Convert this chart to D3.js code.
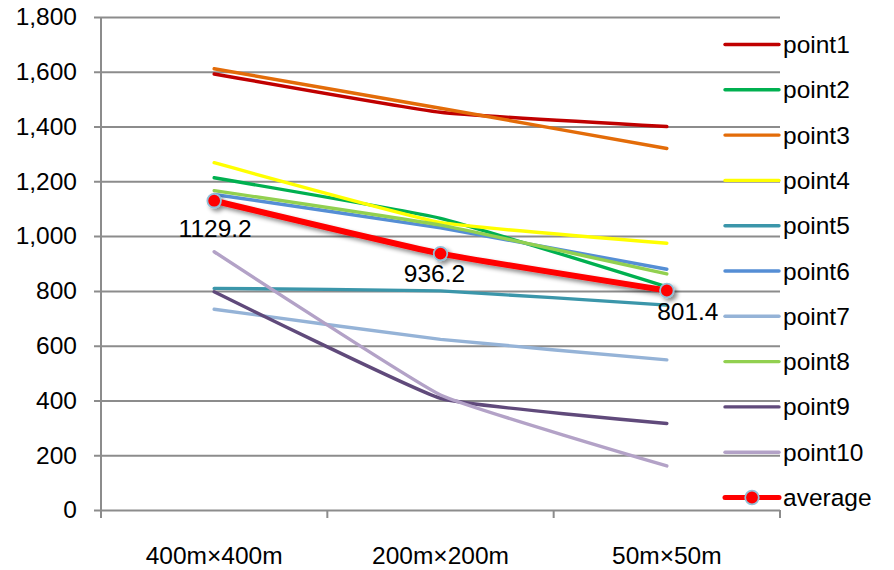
<!DOCTYPE html>
<html>
<head>
<meta charset="utf-8">
<script src="https://cdn.jsdelivr.net/npm/d3@7"></script>
<style>
  html, body { margin: 0; padding: 0; background: #fff; }
  svg { display: block; font-family: "Liberation Sans", Arial, sans-serif; }
</style>
</head>
<body>
<svg id="chart" width="894" height="570"></svg>
<script>
// Grid resolutions on the x axis
const categories = ["400m\u00d7400m", "200m\u00d7200m", "50m\u00d750m"];

// Measured values per point, one array per series
const point1  = [1592, 1452, 1400];
const point2  = [1213, 1065, 815];
const point3  = [1611, 1467, 1320];
const point4  = [1268, 1050, 974];
const point5  = [809, 800, 748];
const point6  = [1152, 1030, 879];
const point7  = [733, 623, 548];
const point8  = [1166, 1040, 862];
const point9  = [797, 408, 316];
const point10 = [943, 420, 161];
const average = [1129.2, 936.2, 801.4];

const seriesNames = ["point1", "point2", "point3", "point4", "point5",
                     "point6", "point7", "point8", "point9", "point10"];
const seriesValues = [point1, point2, point3, point4, point5,
                      point6, point7, point8, point9, point10];
const seriesColors = ["#C00000", "#00B050", "#E36C09", "#FFFF00", "#3B96AA",
                      "#558ED5", "#95B3D7", "#92D050", "#604A7B", "#B3A2C7"];

const yTicks = [0, 200, 400, 600, 800, 1000, 1200, 1400, 1600, 1800];

// Offsets of the average value labels relative to their markers
const labelOffsets = [[1, 28], [-6, 20], [21, 21]];

const FONT = 24.5;

const svg = d3.select("#chart");
const plot = { left: 101, right: 780, top: 17, bottom: 510 };

const x = d3.scaleBand().domain(categories).range([plot.left, plot.right]);
const y = d3.scaleLinear().domain([0, 1800]).range([plot.bottom, plot.top]);
const cx = c => x(c) + x.bandwidth() / 2;

const defs = svg.append("defs");
const shadow = defs.append("filter").attr("id", "shadow")
  .attr("x", "-10%").attr("y", "-30%").attr("width", "130%").attr("height", "180%");
shadow.append("feDropShadow").attr("dx", 3).attr("dy", 3)
  .attr("stdDeviation", 2.2).attr("flood-color", "#000").attr("flood-opacity", 0.45);

// Horizontal gridlines with left tick marks
const yAxis = d3.axisLeft(y).tickValues(yTicks)
  .tickSize(-(plot.right - plot.left)).tickSizeOuter(0)
  .tickFormat(d3.format(",")).tickPadding(24);
const gy = svg.append("g").attr("transform", `translate(${plot.left},0)`).call(yAxis);
gy.select(".domain").remove();
gy.selectAll(".tick line").attr("x1", -7).attr("stroke", "#8C8C8C").attr("stroke-width", 2);
gy.selectAll(".tick text").attr("font-size", FONT).attr("fill", "#000")
  .attr("font-family", "Liberation Sans, Arial, sans-serif");

// Vertical axis line
svg.append("line").attr("x1", plot.left).attr("x2", plot.left)
  .attr("y1", plot.top).attr("y2", plot.bottom + 8)
  .attr("stroke", "#8C8C8C").attr("stroke-width", 2);

// Category axis: tick marks on band boundaries, labels at band centres
const bounds = categories.map(c => x(c)).concat([plot.right]);
svg.append("g").selectAll("line").data(bounds).join("line")
  .attr("x1", d => d).attr("x2", d => d)
  .attr("y1", plot.bottom).attr("y2", plot.bottom + 8)
  .attr("stroke", "#8C8C8C").attr("stroke-width", 2);
svg.append("g").selectAll("text").data(categories).join("text")
  .attr("x", d => cx(d)).attr("y", 555).attr("dy", "0.35em")
  .attr("text-anchor", "middle").attr("font-size", FONT).attr("fill", "#000")
  .text(d => d);

// Series lines, lightly smoothed
const line = d3.line()
  .x((d, i) => cx(categories[i]))
  .y(d => y(d))
  .curve(d3.curveCardinal.tension(0.65));

svg.append("g").selectAll("path").data(seriesValues).join("path")
  .attr("d", d => line(d))
  .attr("fill", "none")
  .attr("stroke", (d, i) => seriesColors[i])
  .attr("stroke-width", 3.4)
  .attr("stroke-linecap", "round")
  .attr("stroke-linejoin", "round");

// Average line with markers
const avgG = svg.append("g").attr("filter", "url(#shadow)");
avgG.append("path").attr("d", line(average))
  .attr("fill", "none").attr("stroke", "#FF0000").attr("stroke-width", 6)
  .attr("stroke-linecap", "round");
avgG.selectAll("circle").data(average).join("circle")
  .attr("cx", (d, i) => cx(categories[i])).attr("cy", d => y(d))
  .attr("r", 6.8).attr("fill", "#FF0000")
  .attr("stroke", "#93C0D8").attr("stroke-width", 1.8);

svg.append("g").selectAll("text").data(average).join("text")
  .attr("x", (d, i) => cx(categories[i]) + labelOffsets[i][0])
  .attr("y", (d, i) => y(d) + labelOffsets[i][1])
  .attr("dy", "0.35em").attr("text-anchor", "middle")
  .attr("font-size", FONT).attr("fill", "#000")
  .text(d => d3.format(".1f")(d));

// Legend
const legendItems = seriesNames.map((n, i) => ({ name: n, color: seriesColors[i], avg: false }))
  .concat([{ name: "average", color: "#FF0000", avg: true }]);
const lg = svg.append("g");
const rowY = i => 44.5 + i * 45.3;
const row = lg.selectAll("g").data(legendItems).join("g")
  .attr("transform", (d, i) => `translate(0,${rowY(i)})`);
row.append("line").attr("x1", 725).attr("x2", 779).attr("y1", 0).attr("y2", 0)
  .attr("stroke", d => d.color).attr("stroke-width", d => d.avg ? 5 : 3.4)
  .attr("stroke-linecap", "round");
row.filter(d => d.avg).append("circle")
  .attr("cx", 752).attr("cy", 0).attr("r", 6.8)
  .attr("fill", "#FF0000").attr("stroke", "#93C0D8").attr("stroke-width", 1.8);
row.append("text").attr("x", 783).attr("y", 0).attr("dy", "0.35em")
  .attr("font-size", FONT).attr("fill", "#000").text(d => d.name);
</script>
</body>
</html>
